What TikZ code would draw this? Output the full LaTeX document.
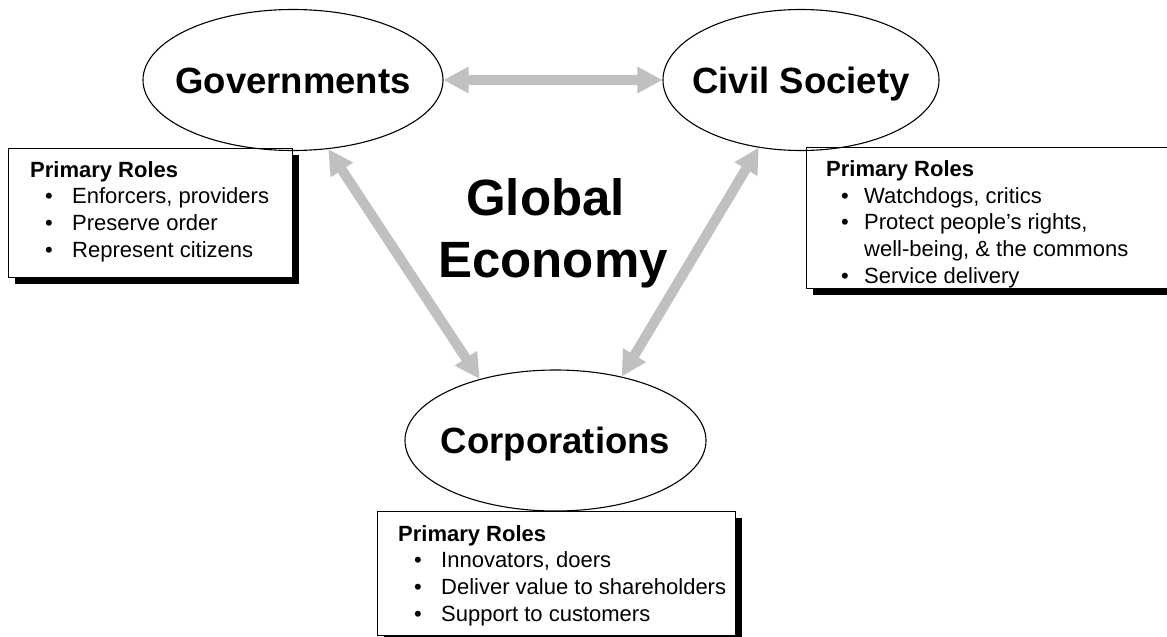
\documentclass[tikz,border=0pt]{standalone}
\usepackage{fontspec}
\setmainfont{Liberation Sans}
\usetikzlibrary{shapes.geometric,arrows.meta,shadows}
\definecolor{arrowgray}{HTML}{C0C0C0}
\tikzset{
  actor/.style={ellipse, draw=black, line width=1.1pt, inner sep=0pt,
    minimum width=#1, minimum height=141pt},
  actortext/.style={inner sep=0pt, text height=26pt, text depth=0pt,
    font=\bfseries\fontsize{36.5}{40}\selectfont},
  rolebox/.style={rectangle, draw=black, line width=1.1pt, fill=white, inner sep=0pt,
    anchor=north west,
    drop shadow={shadow xshift=6pt, shadow yshift=-6pt, fill=black, opacity=1}},
  rolehead/.style={anchor=base west, inner sep=0pt, font=\bfseries\fontsize{22}{27}\selectfont},
  roleitem/.style={anchor=base west, inner sep=0pt, font=\fontsize{22}{27}\selectfont},
  rolebullet/.style={anchor=base, inner sep=0pt, font=\fontsize{22}{27}\selectfont},
  globaltext/.style={anchor=base, inner sep=0pt, font=\bfseries\fontsize{51}{62}\selectfont},
  garrow/.style={draw=arrowgray, line width=10pt,
    {Triangle[width=25pt,length=25pt]}-{Triangle[width=25pt,length=25pt]}}
}
\begin{document}
\begin{tikzpicture}[x=1pt,y=-1pt]
\useasboundingbox (0,0) rectangle (1167,637);
\begin{scope}
\clip (0,0) rectangle (1167,637);
% boxes
\node[rolebox, minimum width=284pt, minimum height=129pt] (gbox) at (8,148) {};
\node[rolebox, minimum width=372pt, minimum height=141pt] (cbox) at (806,147) {};
\node[rolebox, minimum width=358pt, minimum height=124pt] (pbox) at (377,511) {};
\end{scope}
% ellipses
\node[actor=300pt] (gov) at (293,80) {};
\node[actor=276pt] (civ) at (801,80) {};
\node[actor=301pt] (corp) at (555.5,440.5) {};
\node[actortext] (govt) at (gov.center) {Governments};
\node[actortext] (civt) at (civ.center) {Civil Society};
\node[actortext] (corpt) at (corp.center) {Corporations};
% central text
\node[globaltext] (glob1) at (545.5,215) {Global};
\node[globaltext] (glob2) at (553,277) {Economy};
% arrows
\draw[garrow] (gov.east) -- (civ.west);
\draw[garrow] (gov.297) -- (corp.141);
\draw[garrow] (civ.238) -- (corp.44);
% governments roles
\node[rolehead] (gh) at (30,177) {Primary Roles};
\node[rolebullet] (gb1) at (49,203) {•};
\node[roleitem] (gi1) at (72,203) {Enforcers, providers};
\node[rolebullet] (gb2) at (49,230) {•};
\node[roleitem] (gi2) at (72,230) {Preserve order};
\node[rolebullet] (gb3) at (49,257) {•};
\node[roleitem] (gi3) at (72,257) {Represent citizens};
% civil society roles
\node[rolehead] (ch) at (826,176) {Primary Roles};
\node[rolebullet] (cb1) at (845,203) {•};
\node[roleitem] (ci1) at (864,203) {Watchdogs, critics};
\node[rolebullet] (cb2) at (845,229) {•};
\node[roleitem] (ci2) at (864,229) {Protect people’s rights,};
\node[roleitem] (ci2b) at (864,256) {well-being, \& the commons};
\node[rolebullet] (cb3) at (845,283) {•};
\node[roleitem] (ci3) at (864,283) {Service delivery};
% corporations roles
\node[rolehead] (ph) at (398,541) {Primary Roles};
\node[rolebullet] (pb1) at (418,567) {•};
\node[roleitem] (pi1) at (441,567) {Innovators, doers};
\node[rolebullet] (pb2) at (418,594) {•};
\node[roleitem] (pi2) at (441,594) {Deliver value to shareholders};
\node[rolebullet] (pb3) at (418,621) {•};
\node[roleitem] (pi3) at (441,621) {Support to customers};
\end{tikzpicture}
\end{document}
